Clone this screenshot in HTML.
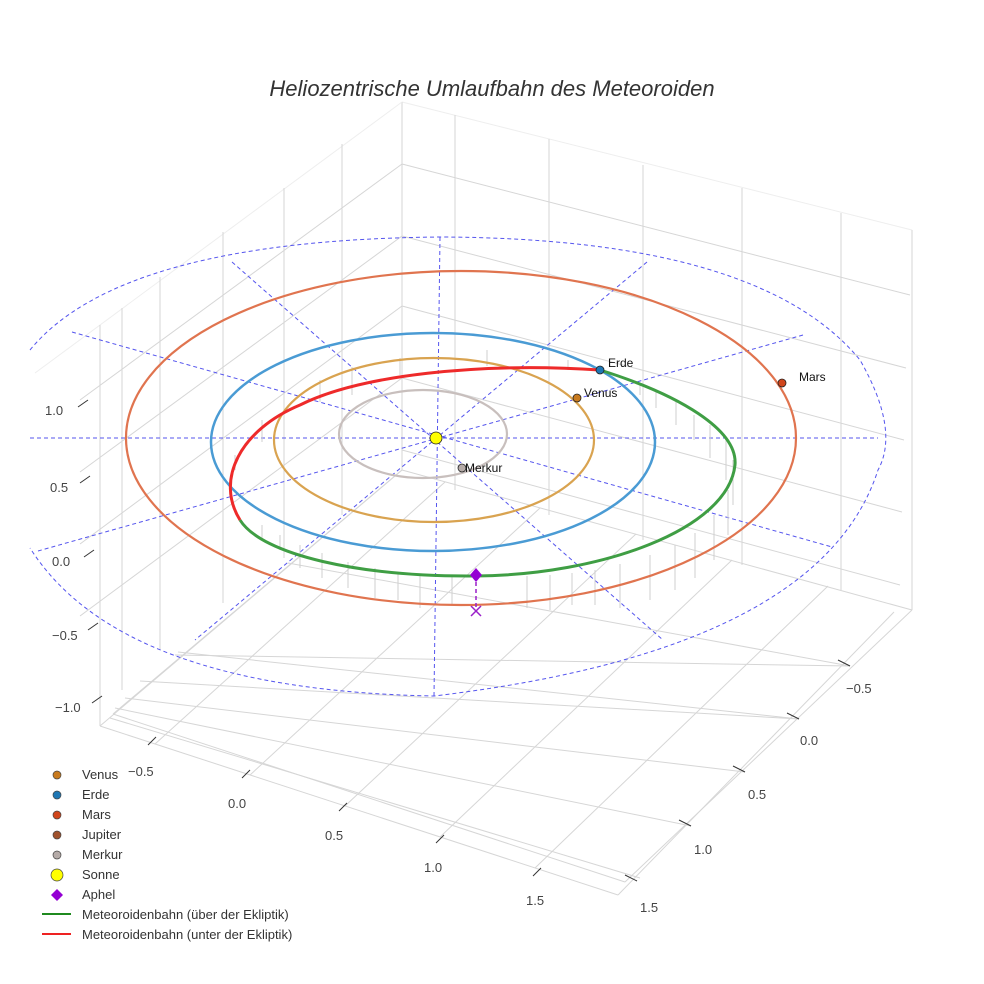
<!DOCTYPE html>
<html><head><meta charset="utf-8"><style>
html,body{margin:0;padding:0;background:#fff;}
svg{display:block;font-family:"Liberation Sans",sans-serif;}
</style></head><body>
<svg width="984" height="984" viewBox="0 0 984 984" xmlns="http://www.w3.org/2000/svg">
<rect width="984" height="984" fill="#fff"/>
<text x="492" y="96" text-anchor="middle" font-size="22" font-style="italic" fill="#333">Heliozentrische Umlaufbahn des Meteoroiden</text>

<!-- box walls -->
<g stroke="#d6d6d6" stroke-width="1" fill="none">
<line x1="402" y1="102" x2="912" y2="230" stroke="#eee"/>
<line x1="402" y1="164" x2="910" y2="295"/>
<line x1="402" y1="236" x2="906" y2="368"/>
<line x1="402" y1="306" x2="904" y2="440"/>
<line x1="402" y1="378" x2="902" y2="512"/>
<line x1="402" y1="450" x2="900" y2="585"/>
<line x1="455" y1="115" x2="455" y2="490"/>
<line x1="549" y1="139" x2="549" y2="515"/>
<line x1="643" y1="165" x2="643" y2="540"/>
<line x1="742" y1="188" x2="742" y2="565"/>
<line x1="841" y1="213" x2="841" y2="590"/>
<line x1="912" y1="230" x2="912" y2="610"/>
<line x1="402" y1="102" x2="402" y2="470"/>
<line x1="402" y1="102" x2="35" y2="373" stroke="#eee"/>
<line x1="402" y1="164" x2="80" y2="400"/>
<line x1="402" y1="236" x2="80" y2="472"/>
<line x1="402" y1="306" x2="80" y2="544"/>
<line x1="402" y1="378" x2="80" y2="616"/>
<line x1="342" y1="144" x2="342" y2="515"/>
<line x1="284" y1="188" x2="284" y2="558"/>
<line x1="223" y1="232" x2="223" y2="603"/>
<line x1="160" y1="277" x2="160" y2="650"/>
<line x1="122" y1="308" x2="122" y2="690"/>
<line x1="100" y1="325" x2="100" y2="726"/>
<!-- floor -->
<line x1="100" y1="726" x2="402" y2="470"/>
<line x1="113" y1="714" x2="402" y2="470"/>
<line x1="402" y1="470" x2="912" y2="610"/>
<line x1="100" y1="726" x2="618" y2="895"/>
<line x1="113" y1="714" x2="625" y2="882"/>
<line x1="618" y1="895" x2="894" y2="612"/>
<line x1="625" y1="882" x2="912" y2="610"/>
<line x1="155" y1="744" x2="445" y2="482"/>
<line x1="250" y1="775" x2="540" y2="508"/>
<line x1="345" y1="806" x2="636" y2="534"/>
<line x1="440" y1="837" x2="732" y2="560"/>
<line x1="535" y1="868" x2="828" y2="586"/>
<line x1="850" y1="666" x2="175" y2="655"/>
<line x1="799" y1="719" x2="140" y2="681"/>
<line x1="745" y1="772" x2="125" y2="698"/>
<line x1="691" y1="826" x2="115" y2="708"/>
<line x1="640" y1="878" x2="110" y2="718"/>
<line x1="850" y1="666" x2="288" y2="563"/>
<line x1="799" y1="719" x2="178" y2="652"/>
</g>
<!-- ticks -->
<g stroke="#333" stroke-width="1">
<line x1="78" y1="407" x2="88" y2="400"/><line x1="80" y1="483" x2="90" y2="476"/>
<line x1="84" y1="557" x2="94" y2="550"/><line x1="88" y1="630" x2="98" y2="623"/>
<line x1="92" y1="703" x2="102" y2="696"/>
<line x1="148" y1="745" x2="156" y2="737"/><line x1="242" y1="778" x2="250" y2="770"/>
<line x1="339" y1="811" x2="347" y2="803"/><line x1="436" y1="843" x2="444" y2="835"/>
<line x1="533" y1="876" x2="541" y2="868"/>
<line x1="838" y1="660" x2="850" y2="666"/><line x1="787" y1="713" x2="799" y2="719"/>
<line x1="733" y1="766" x2="745" y2="772"/><line x1="679" y1="820" x2="691" y2="826"/>
<line x1="625" y1="875" x2="637" y2="881"/>
</g>
<g font-size="13" fill="#444">
<text x="45" y="415">1.0</text><text x="50" y="492">0.5</text><text x="52" y="566">0.0</text>
<text x="52" y="640">−0.5</text><text x="55" y="712">−1.0</text>
<text x="128" y="776">−0.5</text><text x="228" y="808">0.0</text><text x="325" y="840">0.5</text>
<text x="424" y="872">1.0</text><text x="526" y="905">1.5</text>
<text x="846" y="693">−0.5</text><text x="800" y="745">0.0</text><text x="748" y="799">0.5</text>
<text x="694" y="854">1.0</text><text x="640" y="912">1.5</text>
</g>

<!-- dashed ecliptic grid -->
<g stroke="#5555ee" stroke-width="1" stroke-dasharray="4,3" fill="none">
<path d="M30,350 Q120,240 440,237 Q760,238 860,360 Q900,430 878,470 Q820,650 434,696 Q120,690 30,548"/>
<line x1="30" y1="438" x2="878" y2="438"/>
<line x1="440" y1="237" x2="434" y2="696"/>
<line x1="232" y1="262" x2="663" y2="640"/>
<line x1="647" y1="262" x2="195" y2="640"/>
<line x1="72" y1="332" x2="832" y2="547"/>
<line x1="803" y1="335" x2="38" y2="551"/>
</g>

<!-- drop lines -->
<g stroke="#cfcfcf" stroke-width="1">
<line x1="640" y1="385" x2="640" y2="395"/><line x1="656" y1="392" x2="656" y2="408"/>
<line x1="676" y1="402" x2="676" y2="425"/><line x1="694" y1="415" x2="694" y2="440"/>
<line x1="710" y1="425" x2="710" y2="458"/><line x1="726" y1="440" x2="726" y2="480"/>
<line x1="733" y1="460" x2="733" y2="505"/><line x1="728" y1="490" x2="728" y2="535"/>
<line x1="714" y1="515" x2="714" y2="560"/><line x1="695" y1="533" x2="695" y2="578"/>
<line x1="675" y1="545" x2="675" y2="590"/><line x1="650" y1="555" x2="650" y2="600"/>
<line x1="620" y1="564" x2="620" y2="608"/><line x1="595" y1="570" x2="595" y2="605"/>
<line x1="572" y1="573" x2="572" y2="605"/><line x1="550" y1="575" x2="550" y2="610"/>
<line x1="527" y1="576" x2="527" y2="608"/><line x1="452" y1="576" x2="452" y2="605"/>
<line x1="420" y1="574" x2="420" y2="608"/><line x1="398" y1="572" x2="398" y2="600"/>
<line x1="375" y1="568" x2="375" y2="598"/><line x1="348" y1="562" x2="348" y2="588"/>
<line x1="322" y1="553" x2="322" y2="578"/><line x1="300" y1="545" x2="300" y2="568"/>
<line x1="280" y1="535" x2="280" y2="550"/><line x1="262" y1="525" x2="262" y2="540"/>
<line x1="235" y1="455" x2="235" y2="470"/><line x1="262" y1="420" x2="262" y2="442"/>
<line x1="320" y1="380" x2="320" y2="402"/><line x1="352" y1="367" x2="352" y2="395"/>
<line x1="400" y1="358" x2="400" y2="375"/><line x1="487" y1="350" x2="487" y2="366"/>
<line x1="568" y1="360" x2="568" y2="370"/>
</g>

<!-- orbits -->
<g fill="none">
<ellipse cx="423" cy="434" rx="84" ry="44" stroke="#c8bfbd" stroke-width="2.2"/>
<ellipse cx="434" cy="440" rx="160" ry="82" stroke="#d9a350" stroke-width="2.2"/>
<ellipse cx="433" cy="442" rx="222" ry="109" stroke="#4a9bd4" stroke-width="2.5"/>
<ellipse cx="461" cy="438" rx="335" ry="167" stroke="#e0744f" stroke-width="2.2"/>
<path d="M600,370 C680,395 738,430 735,465 C728,530 600,575 476,576 C360,577 262,555 240,520" stroke="#3f9e44" stroke-width="3"/>
<path d="M240,520 C215,480 240,430 300,405 C360,375 480,362 600,370" stroke="#ee2a2a" stroke-width="3"/>
</g>

<!-- aphel -->
<line x1="476" y1="575" x2="476" y2="608" stroke="#9a1fc9" stroke-width="1.5" stroke-dasharray="4,3"/>
<path d="M471,606 L481,616 M481,606 L471,616" stroke="#9a1fc9" stroke-width="1.5"/>
<path d="M476,568 L482,575 L476,582 L470,575 Z" fill="#9400d3"/>

<!-- planets -->
<g stroke="#222" stroke-width="0.8">
<circle cx="600" cy="370" r="4" fill="#1f77b4"/>
<circle cx="577" cy="398" r="4" fill="#c87a1e"/>
<circle cx="782" cy="383" r="4" fill="#d0451b"/>
<circle cx="462" cy="468" r="4" fill="#b5aba8"/>
<circle cx="436" cy="438" r="6" fill="#ffff00"/>
</g>
<g font-size="12" fill="#111">
<text x="608" y="367">Erde</text><text x="584" y="397">Venus</text>
<text x="799" y="381">Mars</text><text x="465" y="472">Merkur</text>
</g>

<!-- legend -->
<g stroke="#444" stroke-width="0.7">
<circle cx="57" cy="775" r="4" fill="#c87a1e"/>
<circle cx="57" cy="795" r="4" fill="#1f77b4"/>
<circle cx="57" cy="815" r="4" fill="#d0451b"/>
<circle cx="57" cy="835" r="4" fill="#a0522d"/>
<circle cx="57" cy="855" r="4" fill="#b5aba8"/>
<circle cx="57" cy="875" r="6" fill="#ffff00"/>
</g>
<path d="M57,889 L63,895 L57,901 L51,895 Z" fill="#9400d3"/>
<line x1="42" y1="914" x2="71" y2="914" stroke="#1f8a1f" stroke-width="2"/>
<line x1="42" y1="934" x2="71" y2="934" stroke="#e22" stroke-width="2"/>
<g font-size="13" fill="#333">
<text x="82" y="779">Venus</text><text x="82" y="799">Erde</text><text x="82" y="819">Mars</text>
<text x="82" y="839">Jupiter</text><text x="82" y="859">Merkur</text><text x="82" y="879">Sonne</text>
<text x="82" y="899">Aphel</text>
<text x="82" y="919">Meteoroidenbahn (über der Ekliptik)</text>
<text x="82" y="939">Meteoroidenbahn (unter der Ekliptik)</text>
</g>
</svg>
</body></html>
